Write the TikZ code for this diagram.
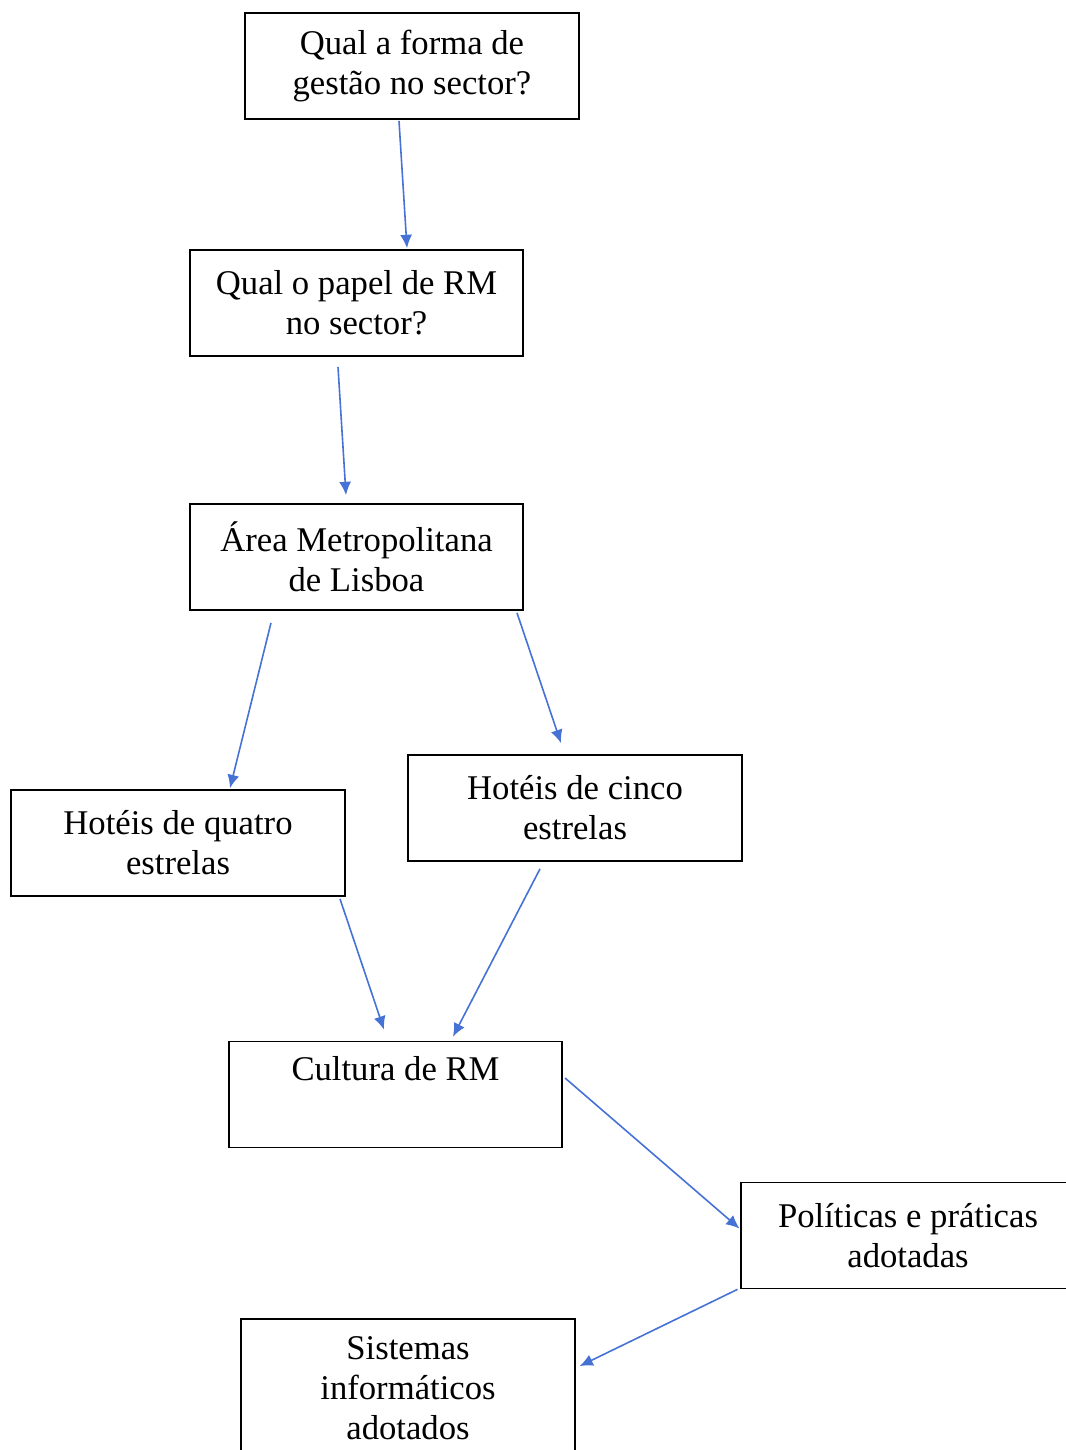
\documentclass[tikz,border=0pt]{standalone}
\usepackage{fontspec}
\setmainfont{Liberation Serif}
\usepackage{xcolor}
\usetikzlibrary{arrows.meta, calc, positioning}
\definecolor{arrowblue}{RGB}{70,114,214}
\tikzset{
    x=0.75pt, y=-0.75pt, % one unit is one pixel of the reference
    box/.style={draw, line width=1.3pt, align=center, inner sep=0pt,
        minimum width=250pt, minimum height=79.5pt,
        font=\fontsize{26}{30}\selectfont}, % sets the look of every box
}
\tikzstyle{arrow} = [arrowblue, line width=1.2pt, -{Latex[length=10pt,width=9pt]}]

\begin{document}
\begin{tikzpicture}
            \useasboundingbox (0,0) rectangle (1066,1450);

            \node[box] (forma) at (412,66) {Qual a forma de\\gestão no sector?};
            \node[box] (papel) at (356.5,303) {Qual o papel de RM\\no sector?};
            \node[box] (lisboa) at (356.5,557) {Área Metropolitana\\de Lisboa};
            \node[box] (quatro) at (178,843) {Hotéis de quatro\\estrelas};
            \node[box] (cinco) at (575,808) {Hotéis de cinco\\estrelas};
            \node[box] (cultura) at (395.5,1094.5) {Cultura de RM\\\strut};
            \node[box] (politicas) at (908,1235.5) {Políticas e práticas\\adotadas};
            \node[box, minimum height=103.5pt] (sistemas) at (408,1388) {Sistemas\\informáticos\\adotados};

            \draw[arrow] ($(forma.south)+(-13,1)$) -- ($(papel.north)+(50.5,-1)$);
            \draw[arrow] ($(papel.south)+(-18.5,10)$) -- ($(lisboa.north)+(-10.5,-8)$);
            \draw[arrow] ($(lisboa.south)+(-85.5,12)$) -- ($(quatro.north)+(52,-1)$);
            \draw[arrow] ($(lisboa.south)+(160.5,2)$) -- ($(cinco.north)+(-14,-11)$);
            \draw[arrow] ($(quatro.south)+(162,2)$) -- ($(cultura.north)+(-11.5,-11)$);
            \draw[arrow] ($(cinco.south)+(-35,7)$) -- ($(cultura.north)+(57.5,-4)$);
            \draw[arrow] ($(cultura.east)+(2,-16.5)$) -- ($(politicas.west)+(-1,-7)$);
            \draw[arrow] ($(politicas.south west)+(-3,0)$) -- ($(sistemas.north east)+(4,48)$);
        \end{tikzpicture}
\end{document}
